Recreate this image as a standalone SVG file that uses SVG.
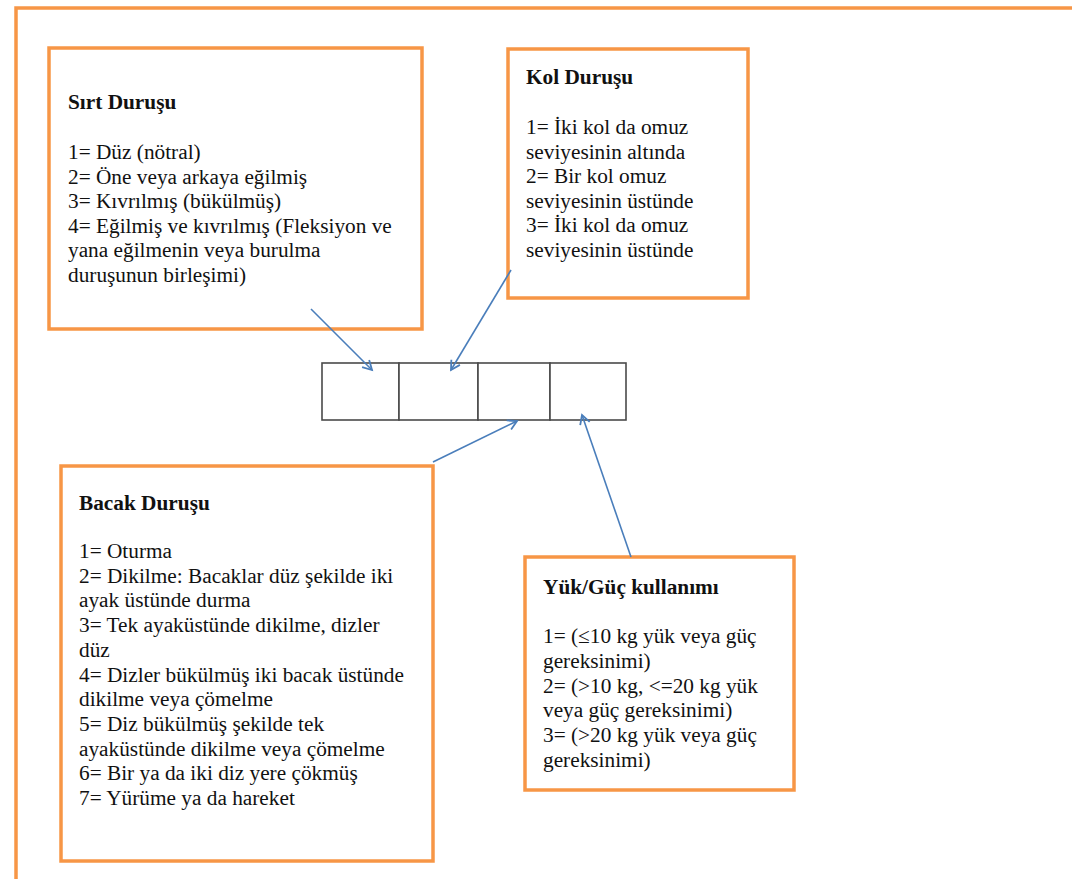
<svg xmlns="http://www.w3.org/2000/svg" width="1072" height="879" viewBox="0 0 1072 879">
<defs>
<style>
.box{fill:#ffffff;stroke:#F79646;stroke-width:3.5}
.t{font-family:"Liberation Serif","Times New Roman",serif;font-size:21.3px;fill:#111}
.b{font-weight:bold}
.cell{fill:#ffffff;stroke:#4a4a4a;stroke-width:1.6}
.conn{stroke:#4A7EBB;stroke-width:1.6;fill:none;marker-end:url(#ah)}
</style>
<marker id="ah" markerWidth="14" markerHeight="14" refX="10" refY="6" orient="auto" markerUnits="userSpaceOnUse">
<path d="M1,1 L10,6 L1,11" fill="none" stroke="#4A7EBB" stroke-width="1.8"/>
</marker>
</defs>
<rect width="1072" height="879" fill="#ffffff"/>
<rect x="16" y="8" width="1100" height="920" fill="none" stroke="#F79646" stroke-width="3.5"/>

<g id="grid">
<rect class="cell" x="322" y="363" width="77" height="57"/>
<rect class="cell" x="399" y="363" width="79" height="57"/>
<rect class="cell" x="478" y="363" width="72" height="57"/>
<rect class="cell" x="550" y="363" width="76" height="57"/>
</g>

<g id="sirt">
<rect class="box" x="49" y="48" width="373" height="281"/>
<text class="t b" x="68" y="109">Sırt Duruşu</text>
<text class="t" x="68" y="159">
<tspan x="68">1= Düz (nötral)</tspan>
<tspan x="68" dy="24.6">2= Öne veya arkaya eğilmiş</tspan>
<tspan x="68" dy="24.6">3= Kıvrılmış (bükülmüş)</tspan>
<tspan x="68" dy="24.6">4= Eğilmiş ve kıvrılmış (Fleksiyon ve</tspan>
<tspan x="68" dy="24.6">yana eğilmenin veya burulma</tspan>
<tspan x="68" dy="24.6">duruşunun birleşimi)</tspan>
</text>
</g>

<g id="kol">
<rect class="box" x="508" y="49" width="240" height="249"/>
<text class="t b" x="526" y="84">Kol Duruşu</text>
<text class="t" x="526" y="134">
<tspan x="526">1= İki kol da omuz</tspan>
<tspan x="526" dy="24.5">seviyesinin altında</tspan>
<tspan x="526" dy="24.5">2= Bir kol omuz</tspan>
<tspan x="526" dy="24.5">seviyesinin üstünde</tspan>
<tspan x="526" dy="24.5">3= İki kol da omuz</tspan>
<tspan x="526" dy="24.5">seviyesinin üstünde</tspan>
</text>
</g>

<g id="bacak">
<rect class="box" x="61" y="466" width="372" height="395"/>
<text class="t b" x="79" y="510">Bacak Duruşu</text>
<text class="t" x="79" y="558">
<tspan x="79">1= Oturma</tspan>
<tspan x="79" dy="24.7">2= Dikilme: Bacaklar düz şekilde iki</tspan>
<tspan x="79" dy="24.7">ayak üstünde durma</tspan>
<tspan x="79" dy="24.7">3= Tek ayaküstünde dikilme, dizler</tspan>
<tspan x="79" dy="24.7">düz</tspan>
<tspan x="79" dy="24.7">4= Dizler bükülmüş iki bacak üstünde</tspan>
<tspan x="79" dy="24.7">dikilme veya çömelme</tspan>
<tspan x="79" dy="24.7">5= Diz bükülmüş şekilde tek</tspan>
<tspan x="79" dy="24.7">ayaküstünde dikilme veya çömelme</tspan>
<tspan x="79" dy="24.7">6= Bir ya da iki diz yere çökmüş</tspan>
<tspan x="79" dy="24.7">7= Yürüme ya da hareket</tspan>
</text>
</g>

<g id="yuk">
<rect class="box" x="525" y="557" width="269" height="233"/>
<text class="t b" x="543" y="594">Yük/Güç kullanımı</text>
<text class="t" x="543" y="643">
<tspan x="543">1= (≤10 kg yük veya güç</tspan>
<tspan x="543" dy="24.8">gereksinimi)</tspan>
<tspan x="543" dy="24.8">2= (&gt;10 kg, &lt;=20 kg yük</tspan>
<tspan x="543" dy="24.8">veya güç gereksinimi)</tspan>
<tspan x="543" dy="24.8">3= (&gt;20 kg yük veya güç</tspan>
<tspan x="543" dy="24.8">gereksinimi)</tspan>
</text>
</g>

<g id="connectors">
<line class="conn" x1="311" y1="309" x2="372" y2="370"/>
<line class="conn" x1="511" y1="270" x2="451" y2="370"/>
<line class="conn" x1="433" y1="462" x2="517" y2="421"/>
<line class="conn" x1="631" y1="557" x2="582" y2="415"/>
</g>
</svg>
